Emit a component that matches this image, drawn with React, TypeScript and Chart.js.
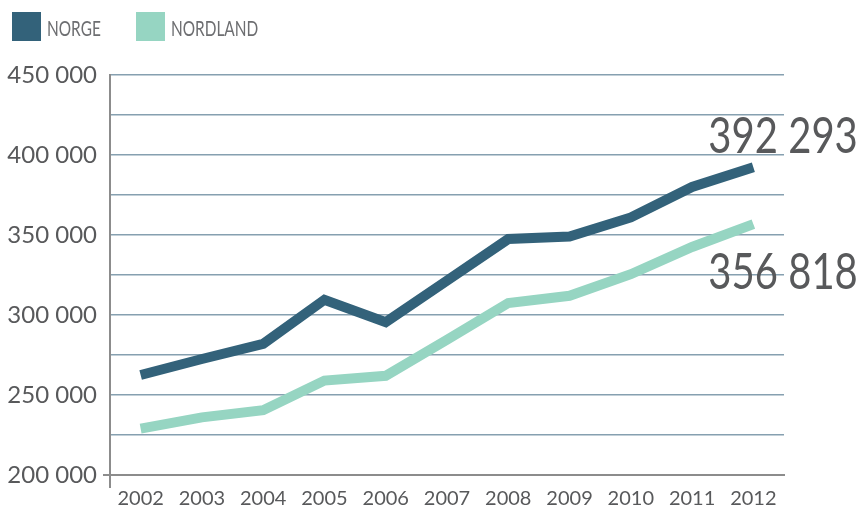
import React, { useEffect, useRef } from 'react';
import { Chart, registerables } from 'chart.js';

Chart.register(...registerables);

const years: string[] = ['2002', '2003', '2004', '2005', '2006', '2007', '2008', '2009', '2010', '2011', '2012'];
const norge: number[] = [262500, 272500, 282000, 309500, 295500, 321500, 347500, 349000, 361000, 380000, 392293];
const nordland: number[] = [229000, 236000, 240500, 259000, 262000, 284500, 307500, 312000, 325500, 342500, 356818];
const seriesNames: string[] = ['NORGE', 'NORDLAND'];
const seriesColors: string[] = ['#33627a', '#96d5c2'];
const yMin = 200000;
const yMax = 450000;
const yStep = 25000;
const yLabelStep = 50000;

const TEXT = '#58595b';
const AXIS = '#8c8c8c';
const GRID = '#86a0b0';

function fmt(v: number): string {
  return Math.round(v).toString().replace(/\B(?=(\d{3})+(?!\d))/g, ' ');
}

const legendPlugin = {
  id: 'customLegend',
  afterDraw(chart: any) {
    const ctx = chart.ctx as CanvasRenderingContext2D;
    const starts = [12, 136];
    chart.data.datasets.forEach((ds: any, i: number) => {
      const x = starts[i];
      ctx.save();
      ctx.fillStyle = ds.borderColor;
      ctx.fillRect(x, 12, 29, 29);
      ctx.translate(x + 35, 36);
      ctx.scale(0.7, 1);
      ctx.font = '22px Lato';
      ctx.fillStyle = '#6d6e71';
      ctx.textBaseline = 'alphabetic';
      ctx.textAlign = 'left';
      ctx.fillText(ds.label, 0, 0);
      ctx.restore();
    });
  },
};

const extrasPlugin = {
  id: 'extras',
  afterDraw(chart: any) {
    const ctx = chart.ctx as CanvasRenderingContext2D;
    const area = chart.chartArea;
    ctx.save();
    ctx.strokeStyle = AXIS;
    ctx.lineWidth = 2;
    ctx.beginPath();
    ctx.moveTo(area.left - 7, area.bottom);
    ctx.lineTo(area.left, area.bottom);
    ctx.moveTo(area.left, area.bottom);
    ctx.lineTo(area.left, area.bottom + 13);
    ctx.stroke();
    ctx.restore();

    const xs = chart.scales.x;
    const ys = chart.scales.y;
    const offsets = [-14, 65];
    chart.data.datasets.forEach((ds: any, i: number) => {
      const last = ds.data.length - 1;
      const v = ds.data[last];
      const px = xs.getPixelForValue(last);
      const py = ys.getPixelForValue(v);
      ctx.save();
      ctx.translate(px - 45, py + offsets[i]);
      ctx.scale(0.8, 1);
      ctx.font = '50px Lato';
      ctx.fillStyle = TEXT;
      ctx.textAlign = 'left';
      ctx.textBaseline = 'alphabetic';
      ctx.fillText(fmt(v), 0, 0);
      ctx.restore();
    });
  },
};

export default function App() {
  const ref = useRef<HTMLCanvasElement | null>(null);

  useEffect(() => {
    document.body.style.margin = '0';
    const canvas = ref.current;
    if (!canvas) return;
    const chart = new Chart(canvas, {
      type: 'line',
      data: {
        labels: years,
        datasets: [
          {
            label: seriesNames[0],
            data: norge,
            borderColor: seriesColors[0],
            backgroundColor: seriesColors[0],
            borderWidth: 10,
            pointRadius: 0,
            tension: 0,
            fill: false,
          },
          {
            label: seriesNames[1],
            data: nordland,
            borderColor: seriesColors[1],
            backgroundColor: seriesColors[1],
            borderWidth: 10,
            pointRadius: 0,
            tension: 0,
            fill: false,
          },
        ],
      },
      options: {
        responsive: false,
        animation: false,
        layout: { padding: { top: 75, right: 77, left: 0, bottom: 0 } },
        plugins: {
          legend: { display: false },
          tooltip: { enabled: false },
        },
        scales: {
          x: {
            offset: true,
            grid: { display: true, color: 'rgba(0,0,0,0)', drawTicks: false },
            border: { display: true, color: AXIS, width: 2 },
            ticks: {
              color: TEXT,
              font: { family: 'Lato', size: 20 },
              padding: 12,
              maxRotation: 0,
              autoSkip: false,
            },
            afterFit(scale: any) {
              scale.height = 33;
            },
          },
          y: {
            min: yMin,
            max: yMax,
            grid: {
              color: (c: any) => (c.tick && c.tick.value === yMin ? 'rgba(0,0,0,0)' : GRID),
              lineWidth: 1.5,
              drawTicks: false,
            },
            border: { display: true, color: AXIS, width: 2 },
            ticks: {
              stepSize: yStep,
              color: TEXT,
              font: { family: 'Lato', size: 24 },
              padding: 13,
              callback: (v: any) => (Number(v) % yLabelStep === 0 ? fmt(Number(v)) : ''),
            },
            afterFit(scale: any) {
              scale.width = 110;
            },
          },
        },
      },
      plugins: [legendPlugin, extrasPlugin],
    });
    return () => chart.destroy();
  }, []);

  return (
    <div style={{ width: 861, height: 508 }}>
      <canvas ref={ref} width={861} height={508} style={{ display: 'block' }} />
    </div>
  );
}
